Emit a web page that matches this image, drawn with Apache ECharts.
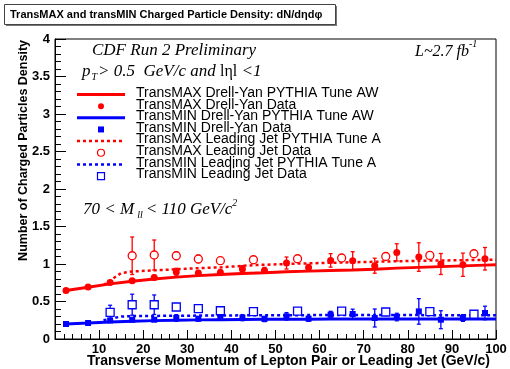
<!DOCTYPE html>
<html><head><meta charset="utf-8">
<script src="https://cdn.jsdelivr.net/npm/echarts@6/dist/echarts.min.js"></script>
<style>html,body{margin:0;padding:0;background:#fff}#c{width:510px;height:369px}</style>
</head><body><div id="c"></div>
<script>
// ---- data ----
const dyX = [2.5,7.5,12.5,17.5,22.5,27.5,32.5,37.5,42.5,47.5,52.5,57.5,62.5,67.5,72.5,77.5,82.5,87.5,92.5,97.5];
const maxDY = [0.648,0.693,0.755,0.777,0.82,0.893,0.88,0.888,0.933,0.915,1.013,0.955,1.048,1.044,0.977,1.155,1.093,1.0,0.99,1.07];
const maxDYErr = [0.02,0.02,0.025,0.025,0.03,0.05,0.03,0.04,0.045,0.04,0.08,0.04,0.09,0.12,0.1,0.115,0.19,0.14,0.155,0.15];
const minDY = [0.2,0.213,0.248,0.257,0.257,0.28,0.27,0.293,0.284,0.267,0.302,0.271,0.324,0.333,0.28,0.293,0.368,0.257,0.28,0.347];
const minDYErr = [0.02,0.02,0.02,0.02,0.02,0.045,0.03,0.04,0.04,0.035,0.05,0.035,0.045,0.065,0.12,0.05,0.17,0.12,0.045,0.09];

const jetX = [12.5,17.5,22.5,27.5,32.5,37.5,45,55,65,75,85,95];
const maxJet = [null,1.11,1.12,1.11,1.067,1.044,1.057,1.07,1.08,1.1,1.115,1.137];
const maxJetErr = [null,0.25,0.2,0.05,0.05,0.04,0.03,0.03,0.03,0.03,0.03,0.03];
const minJet = [0.355,0.457,0.457,0.427,0.404,0.377,0.364,0.373,0.373,0.36,0.364,0.33];
const minJetErr = [0.095,0.14,0.13,0.03,0.02,0.02,0.02,0.02,0.02,0.02,0.02,0.02];

const awX = [2.5,7.5,12.5,17.5,22.5,27.5,32.5,37.5,42.5,47.5,52.5,57.5,62.5,67.5,72.5,77.5,82.5,87.5,92.5,97.5,100];
const awMax = [0.648,0.69,0.735,0.77,0.80,0.825,0.845,0.86,0.873,0.884,0.897,0.905,0.913,0.921,0.93,0.945,0.955,0.965,0.975,0.985,0.99];
const awMin = [0.2,0.213,0.228,0.238,0.245,0.25,0.255,0.258,0.26,0.262,0.264,0.265,0.266,0.266,0.266,0.266,0.266,0.266,0.266,0.266,0.266];

const taX = [11,15,17.5,22.5,27.5,32.5,37.5,45,55,65,75,85,95,100];
const taMax = [0.72,0.88,0.9,0.915,0.93,0.945,0.955,0.985,1.005,1.02,1.033,1.045,1.053,1.058];
const taMin = [0.25,0.3,0.305,0.308,0.31,0.312,0.314,0.316,0.318,0.32,0.32,0.318,0.318,0.318];

const xTicks = [0,10,20,30,40,50,60,70,80,90,100];
const yTicks = [0,0.5,1,1.5,2,2.5,3,3.5,4];

const RED = '#ff0000', BLUE = '#0000ff';
const SANS = '"Liberation Sans", Arial, sans-serif';
const SERIF = '"Liberation Serif", "Times New Roman", serif';

function pairs(xs, ys){ return xs.map((x,i)=>ys[i]==null?null:[x,ys[i]]).filter(d=>d); }
function triples(xs, ys, es){ return xs.map((x,i)=>ys[i]==null?null:[x,ys[i],es[i]]).filter(d=>d); }

function errSeries(xs, ys, es, color){
  return {
    type:'custom', z:3, silent:true,
    data: triples(xs, ys, es),
    encode:{x:0,y:1},
    renderItem:function(params, api){
      const x=api.value(0), y=api.value(1), e=api.value(2);
      const t=api.coord([x,y+e]), b=api.coord([x,y-e]);
      const c=2;
      const st={stroke:color,lineWidth:1.3};
      return {type:'group',children:[
        {type:'line',shape:{x1:t[0],y1:t[1],x2:b[0],y2:b[1]},style:st},
        {type:'line',shape:{x1:t[0]-c,y1:t[1],x2:t[0]+c,y2:t[1]},style:st},
        {type:'line',shape:{x1:b[0]-c,y1:b[1],x2:b[0]+c,y2:b[1]},style:st}
      ]};
    }
  };
}
function lineSeries(xs, ys, color, dotted){
  return {type:'line', z:2, data:pairs(xs,ys), symbol:'none', smooth:false,
    lineStyle:{color:color,width:dotted?2.5:3,type:dotted?[3,3]:'solid'}};
}
function scat(xs, ys, sym, size, color, empty){
  return {type:'scatter', z:5, data:pairs(xs,ys), symbol:sym, symbolSize:size,
    itemStyle: empty ? {color:'#ffffff', borderColor:color, borderWidth:1.3, opacity:1} : {color:color, opacity:1}};
}

const mctx = document.createElement('canvas').getContext('2d');
function piecesText(x, y, pieces){
  const out=[]; let cx=x;
  pieces.forEach(p=>{
    mctx.font = p.font;
    out.push({type:'text', x:cx, y:y+(p.dy||0), style:{text:p.t, font:p.font, fill:'#000', verticalAlign:'middle'}});
    cx += mctx.measureText(p.t).width + (p.gap||0);
  });
  return out;
}

const chart = echarts.init(document.getElementById('c'), null, {renderer:'canvas'});

const legendItems = [
  {label:'TransMAX Drell-Yan PYTHIA Tune AW', kind:'line', color:RED},
  {label:'TransMAX Drell-Yan Data', kind:'dot', color:RED},
  {label:'TransMIN Drell-Yan PYTHIA Tune AW', kind:'line', color:BLUE},
  {label:'TransMIN Drell-Yan Data', kind:'sq', color:BLUE},
  {label:'TransMAX Leading Jet PYTHIA Tune A', kind:'dline', color:RED},
  {label:'TransMAX Leading Jet Data', kind:'ocirc', color:RED},
  {label:'TransMIN Leading Jet PYTHIA Tune A', kind:'dline', color:BLUE},
  {label:'TransMIN Leading Jet Data', kind:'osq', color:BLUE}
];
const graphics = [];
graphics.push({type:'rect', shape:{x:6,y:6,width:331,height:20}, style:{fill:'#777'}, z:10});
graphics.push({type:'rect', shape:{x:4.5,y:4.5,width:331,height:20}, style:{fill:'#fff', stroke:'#444', lineWidth:1}, z:11});
graphics.push({type:'text', x:10, y:15, z:12, style:{text:'TransMAX and transMIN Charged Particle Density: dN/dηdφ', font:'bold 11px '+SANS, fill:'#000', verticalAlign:'middle'}});

legendItems.forEach((it,i)=>{
  const y = 94.5 + i*11.65;
  if(it.kind==='line' || it.kind==='dline'){
    graphics.push({type:'line', shape:{x1:77,y1:y,x2:125,y2:y}, style:{stroke:it.color, lineWidth:it.kind==='line'?3:2.5, lineDash:it.kind==='dline'?[3,3]:null}, z:20});
  } else if(it.kind==='dot'){
    graphics.push({type:'circle', shape:{cx:101,cy:y,r:3}, style:{fill:it.color}, z:20});
  } else if(it.kind==='ocirc'){
    graphics.push({type:'circle', shape:{cx:101,cy:y,r:3.5}, style:{fill:'#fff',stroke:it.color,lineWidth:1.2}, z:20});
  } else if(it.kind==='sq'){
    graphics.push({type:'rect', shape:{x:98,y:y-3,width:6,height:6}, style:{fill:it.color}, z:20});
  } else if(it.kind==='osq'){
    graphics.push({type:'rect', shape:{x:97.5,y:y-3.5,width:7,height:7}, style:{fill:'#fff',stroke:it.color,lineWidth:1.2}, z:20});
  }
  graphics.push({type:'text', x:136, y:y-1.5, z:21, style:{text:it.label, font:'14px '+SANS, fill:'#000', verticalAlign:'middle'}});
});

const I16 = 'italic 17px '+SERIF, I10 = 'italic 10px '+SERIF;
graphics.push({type:'text', x:92, y:51, z:20, style:{text:'CDF Run 2 Preliminary', font:I16, fill:'#000', verticalAlign:'middle'}});
piecesText(415, 52, [
  {t:'L~2.7 fb', font:'italic 16px '+SERIF},
  {t:'-1', font:I10, dy:-8}
]).forEach(g=>{g.z=20;graphics.push(g);});
piecesText(82, 72, [
  {t:'p', font:I16, gap:1},
  {t:'T', font:I10, dy:5, gap:1},
  {t:'> 0.5  GeV/c and ', font:I16},
  {t:'lηl', font:'16px '+SERIF},
  {t:' <1', font:I16}
]).forEach(g=>{g.z=20;graphics.push(g);});
piecesText(83, 210, [
  {t:'70 < M', font:I16, gap:3},
  {t:'ll', font:I10, dy:5, gap:3},
  {t:'< 110 GeV/c', font:I16},
  {t:'2', font:I10, dy:-7}
]).forEach(g=>{g.z=20;graphics.push(g);});

graphics.push({type:'text', x:24, y:40, rotation:Math.PI/2, z:20, style:{text:'Number of Charged Particles Density', font:'bold 12.5px '+SANS, fill:'#000', align:'right', verticalAlign:'middle'}});
graphics.push({type:'text', x:490, y:361, z:20, style:{text:'Transverse Momentum of Lepton Pair or Leading Jet (GeV/c)', font:'bold 14px '+SANS, fill:'#000', align:'right', verticalAlign:'middle'}});

chart.setOption({
  animation:false,
  backgroundColor:'#fff',
  grid:{left:55,right:14,top:39,bottom:30,show:true,borderColor:'#000',borderWidth:1,backgroundColor:'transparent'},
  xAxis:{type:'value',min:xTicks[0],max:xTicks[xTicks.length-1],interval:10,
    axisLine:{show:true,lineStyle:{color:'#000',width:1}},
    axisTick:{show:true,inside:true,length:9,lineStyle:{color:'#000'}},
    minorTick:{show:true,splitNumber:5,length:5,lineStyle:{color:'#000'}},
    splitLine:{show:false},
    axisLabel:{color:'#000',fontWeight:'bold',fontSize:13,fontFamily:SANS,margin:4,
      formatter:v=>v===0?'':String(v)}},
  yAxis:{type:'value',min:yTicks[0],max:yTicks[yTicks.length-1],interval:0.5,
    axisLine:{show:true,lineStyle:{color:'#000',width:1}},
    axisTick:{show:true,inside:true,length:11,lineStyle:{color:'#000'}},
    minorTick:{show:true,splitNumber:5,length:6,lineStyle:{color:'#000'}},
    splitLine:{show:false},
    axisLabel:{color:'#000',fontWeight:'bold',fontSize:13,fontFamily:SANS,margin:5}},
  graphic:graphics,
  series:[
    lineSeries(awX, awMax, RED, false),
    lineSeries(awX, awMin, BLUE, false),
    lineSeries(taX, taMax, RED, true),
    lineSeries(taX, taMin, BLUE, true),
    errSeries(dyX, maxDY, maxDYErr, RED),
    errSeries(dyX, minDY, minDYErr, BLUE),
    errSeries(jetX, maxJet, maxJetErr, RED),
    errSeries(jetX, minJet, minJetErr, BLUE),
    scat(jetX, maxJet, 'circle', 8, RED, true),
    scat(jetX, minJet, 'rect', 8, BLUE, true),
    scat(dyX, maxDY, 'circle', 7, RED, false),
    scat(dyX, minDY, 'rect', 6, BLUE, false)
  ]
});
</script></body></html>
